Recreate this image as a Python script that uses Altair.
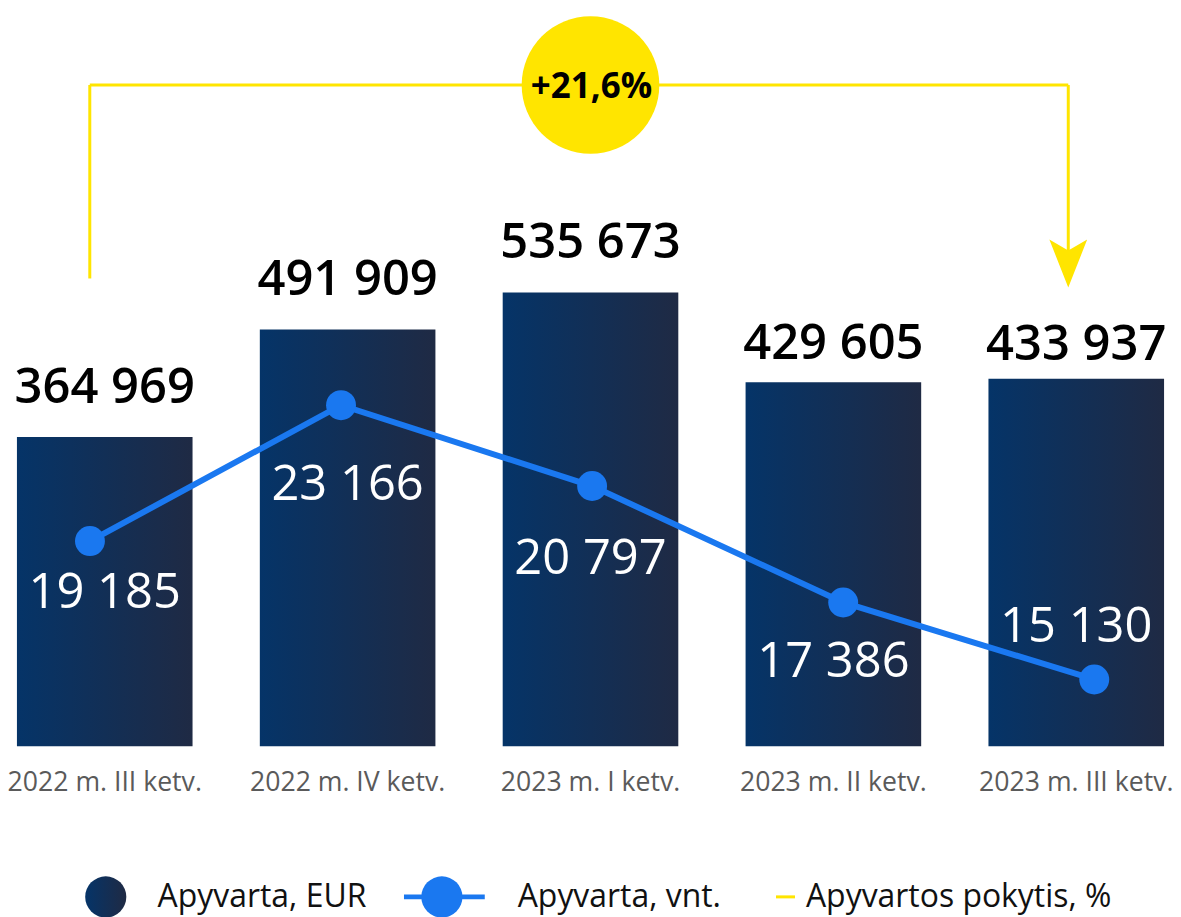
import altair as alt
import pandas as pd

# ---------------- data ----------------
categories = ["2022 m. III ketv.", "2022 m. IV ketv.", "2023 m. I ketv.",
              "2023 m. II ketv.", "2023 m. III ketv."]
turnover_eur = [364969, 491909, 535673, 429605, 433937]
turnover_units = [19185, 23166, 20797, 17386, 15130]
change_label = "+21,6%"
legend_labels = ["Apyvarta, EUR", "Apyvarta, vnt.", "Apyvartos pokytis, %"]

# ---------------- layout / style ----------------
eur_label_gap = [49, 50, 50, 38, 34]        # px above bar top
unit_label_gap = [-52, -80, -73, -60, 53]   # px above point (negative = below)

W, H = 1168, 739
EUR_DOMAIN = [0, 870040]
UNIT_DOMAIN = [13173, 34768]
BLUE = "#1a78f0"
YELLOW = "#ffe500"
FONT = "Open Sans"
bar_gradient = alt.LinearGradient(
    gradient="linear", x1=0, x2=1, y1=0, y2=0,
    stops=[alt.GradientStop(offset=0, color="#053468"),
           alt.GradientStop(offset=1, color="#1f2a44")])


def fmt(v):
    return f"{v:,}".replace(",", " ")


eur_px = (EUR_DOMAIN[1] - EUR_DOMAIN[0]) / H
unit_px = (UNIT_DOMAIN[1] - UNIT_DOMAIN[0]) / H

df = pd.DataFrame({
    "cat": categories,
    "eur": turnover_eur,
    "units": turnover_units,
    "eur_txt": [fmt(v) for v in turnover_eur],
    "units_txt": [fmt(v) for v in turnover_units],
})
df["eur_lab"] = df["eur"] + pd.Series(eur_label_gap) * eur_px
df["units_lab"] = df["units"] + pd.Series(unit_label_gap) * unit_px

base = alt.Chart(df)

band_scale = alt.Scale(type="band", paddingInner=0.277, paddingOuter=0.0368)
x_bar = alt.X("cat:N", sort=categories, scale=band_scale,
              axis=alt.Axis(title=None, labelFontSize=26.7, labelColor="#5a5a5a",
                            labelFont=FONT, ticks=False, tickSize=0, domain=False,
                            grid=False, labelPadding=36, labelBaseline="middle",
                            labelAngle=0, labelLimit=0))
eur_scale = alt.Scale(domain=EUR_DOMAIN, nice=False, zero=True)
unit_scale = alt.Scale(domain=UNIT_DOMAIN, nice=False, zero=False)

bars = base.mark_bar(color=bar_gradient).encode(
    x=x_bar, y=alt.Y("eur:Q", scale=eur_scale, axis=None))
bar_labels = base.mark_text(fontSize=49, fontWeight=600, color="#000000",
                            baseline="middle", font=FONT).encode(
    x=x_bar, y=alt.Y("eur_lab:Q", scale=eur_scale, axis=None), text="eur_txt:N")
group_bars = alt.layer(bars, bar_labels)

x_line = alt.X("cat:N", sort=categories,
               scale=alt.Scale(type="point", padding=0.32, align=0.51), axis=None)
y_line = alt.Y("units:Q", scale=unit_scale, axis=None)
line = base.mark_line(color=BLUE, strokeWidth=6).encode(x=x_line, y=y_line)
points = base.mark_point(filled=True, size=900, color=BLUE, opacity=1).encode(
    x=x_line, y=y_line)
group_line = alt.layer(line, points)

unit_labels = base.mark_text(fontSize=49, color="#ffffff", baseline="middle",
                             font=FONT).encode(
    x=alt.X("cat:N", sort=categories, scale=band_scale, axis=None),
    y=alt.Y("units_lab:Q", scale=unit_scale, axis=None),
    text="units_txt:N")

# ---------------- annotation: change bracket ----------------
dummy = alt.Chart(pd.DataFrame({"a": [0]}))
left_v = dummy.mark_rule(color=YELLOW, strokeWidth=3).encode(
    x=alt.value(82), y=alt.value(76), y2=alt.value(270))
top_h = dummy.mark_rule(color=YELLOW, strokeWidth=3).encode(
    x=alt.value(82), x2=alt.value(1063), y=alt.value(76))
right_v = dummy.mark_rule(color=YELLOW, strokeWidth=3).encode(
    x=alt.value(1063), y=alt.value(76), y2=alt.value(250))
arrow = dummy.mark_point(filled=True, color=YELLOW, opacity=1, size=2304,
                         shape="M0,1L-0.79,-1L0,-0.54L0.79,-1Z").encode(
    x=alt.value(1063), y=alt.value(255))
bubble = dummy.mark_point(filled=True, color=YELLOW, opacity=1, size=19044,
                          shape="circle").encode(x=alt.value(584), y=alt.value(76))
bubble_text = dummy.mark_text(fontSize=35, fontWeight="bold", color="#000000",
                              baseline="middle", font=FONT).encode(
    x=alt.value(585), y=alt.value(78), text=alt.value(change_label))

# ---------------- legend ----------------
LY = 890
leg1_sym = dummy.mark_point(filled=True, color=bar_gradient, opacity=1, size=1700,
                            shape="circle").encode(x=alt.value(98), y=alt.value(LY))
leg2_line = dummy.mark_rule(color=BLUE, strokeWidth=5).encode(
    x=alt.value(397), x2=alt.value(478), y=alt.value(LY))
leg2_sym = dummy.mark_point(filled=True, color=BLUE, opacity=1, size=1700,
                            shape="circle").encode(x=alt.value(435), y=alt.value(LY))
leg3_line = dummy.mark_rule(color=YELLOW, strokeWidth=3).encode(
    x=alt.value(770), x2=alt.value(789), y=alt.value(LY))
leg_text_style = dict(fontSize=32, color="#111111", align="left", baseline="middle",
                      font=FONT)
leg1_txt = dummy.mark_text(**leg_text_style).encode(
    x=alt.value(150), y=alt.value(LY), text=alt.value(legend_labels[0]))
leg2_txt = dummy.mark_text(**leg_text_style).encode(
    x=alt.value(511), y=alt.value(LY), text=alt.value(legend_labels[1]))
leg3_txt = dummy.mark_text(**leg_text_style).encode(
    x=alt.value(800), y=alt.value(LY), text=alt.value(legend_labels[2]))

chart = alt.layer(
    group_bars, group_line, unit_labels,
    left_v, top_h, right_v, arrow, bubble, bubble_text,
    leg1_sym, leg2_line, leg2_sym, leg3_line, leg1_txt, leg2_txt, leg3_txt,
).resolve_scale(x="independent", y="independent").properties(
    width=W, height=H,
    autosize=alt.AutoSizeParams(type="none"),
    padding={"left": 0, "top": 0, "right": 0, "bottom": 170},
).configure(
    font=FONT,
    view=alt.ViewConfig(stroke=None),
)

chart.save("out.html", embed_options={"renderer": "svg", "actions": False})
